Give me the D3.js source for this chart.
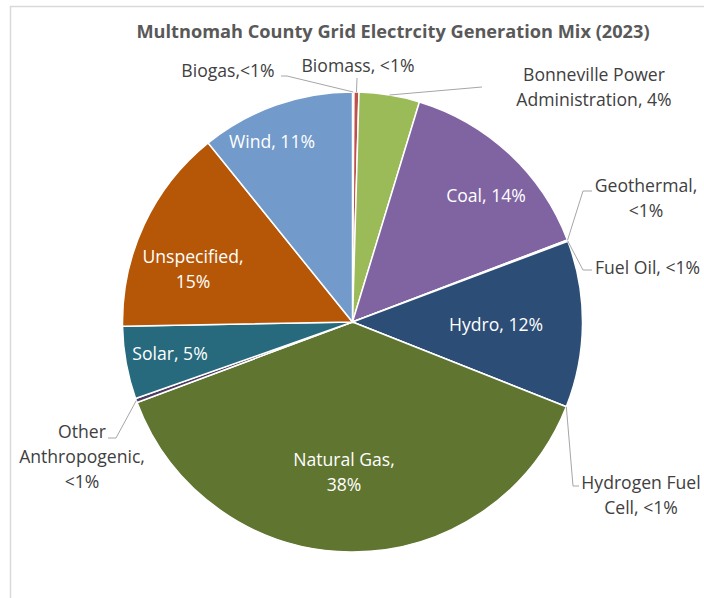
<!DOCTYPE html>
<html>
<head>
<meta charset="utf-8">
<script src="https://cdn.jsdelivr.net/npm/d3@7"></script>
<style>
  body { margin: 0; background: #fff; }
  svg { display: block; font-family: "Open Sans", "Noto Sans", sans-serif; }
</style>
</head>
<body>
<svg id="chart"></svg>
<script>
const categories = ["Biogas", "Biomass", "Bonneville Power Administration", "Coal", "Geothermal",
  "Fuel Oil", "Hydro", "Hydrogen Fuel Cell", "Natural Gas", "Other Anthropogenic", "Solar",
  "Unspecified", "Wind"];
const values = [0.1, 0.35, 4.25, 14.5, 0.05, 0.05, 11.7, 0.02, 38.3, 0.3, 5.1, 14.5, 10.8];
const pctLabels = ["<1%", "<1%", "4%", "14%", "<1%", "<1%", "12%", "<1%", "38%", "<1%", "5%", "15%", "11%"];
const colors = ["#4f81bd", "#c0504d", "#9bbb59", "#8064a2", "#f79646", "#4bacc6", "#2c4d75",
  "#772c2a", "#5f7530", "#4d3b62", "#276a7d", "#b65708", "#729aca"];

const width = 704, height = 598;
const svg = d3.select("#chart").attr("width", width).attr("height", height);

// chart-area border (cropped Excel frame)
svg.append("path")
  .attr("d", "M10.5,598 V6.5 H704")
  .attr("fill", "none")
  .attr("stroke", "#d9d9d9")
  .attr("stroke-width", 1.5);

svg.append("text")
  .attr("x", 393).attr("y", 32)
  .attr("text-anchor", "middle").attr("dy", "0.35em")
  .attr("font-size", 18.2).attr("font-weight", 700).attr("fill", "#595959")
  .text("Multnomah County Grid Electrcity Generation Mix (2023)");

const cx = 352.5, cy = 322, r = 230;
const g = svg.append("g").attr("transform", `translate(${cx},${cy})`);

const pie = d3.pie().sort(null).value(d => d.value);
const arcs = pie(categories.map((c, i) => ({ name: c, value: values[i], pct: pctLabels[i], color: colors[i] })));
const arc = d3.arc().innerRadius(0).outerRadius(r);
const edge = d3.arc().innerRadius(r).outerRadius(r);

g.selectAll("path.slice")
  .data(arcs)
  .join("path")
  .attr("class", "slice")
  .attr("d", arc)
  .attr("fill", d => d.data.color)
  .attr("stroke", "#fff")
  .attr("stroke-width", 1.5);

// label layout: lines, centre point, colour, leader path (relative to page)
const layout = {
  "Biogas": { lines: ["Biogas,<1%"], x: 228, y: 71, lead: [[287, 76], [281, 76]] },
  "Biomass": { lines: ["Biomass, <1%"], x: 358, y: 66, lead: [[357, 78]] },
  "Bonneville Power Administration": { lines: ["Bonneville Power", "Administration, 4%"], x: 594, y: 75, lead: [[482, 87]] },
  "Coal": { lines: ["Coal, 14%"], x: 486, y: 196, inside: true },
  "Geothermal": { lines: ["Geothermal,", "<1%"], x: 646, y: 186, lead: [[583, 191], [592, 191]] },
  "Fuel Oil": { lines: ["Fuel Oil, <1%"], x: 595, y: 268, anchor: "start", lead: [[583, 270], [592, 270]] },
  "Hydro": { lines: ["Hydro, 12%"], x: 496, y: 325, inside: true },
  "Hydrogen Fuel Cell": { lines: ["Hydrogen Fuel", "Cell, <1%"], x: 641, y: 483, lead: [[573, 486], [579, 486]] },
  "Natural Gas": { lines: ["Natural Gas,", "38%"], x: 344, y: 460, inside: true },
  "Other Anthropogenic": { lines: ["Other", "Anthropogenic,", "<1%"], x: 82, y: 432, lead: [[116, 438], [108, 438]] },
  "Solar": { lines: ["Solar, 5%"], x: 170, y: 354, inside: true },
  "Unspecified": { lines: ["Unspecified,", "15%"], x: 193, y: 257, inside: true },
  "Wind": { lines: ["Wind, 11%"], x: 272, y: 142, inside: true }
};

const line = d3.line();
arcs.forEach(d => {
  const L = layout[d.data.name];
  if (L.lead) {
    const p = edge.centroid(d);
    const pts = [[p[0] + cx, p[1] + cy]].concat(L.lead);
    svg.append("path")
      .attr("d", line(pts))
      .attr("fill", "none")
      .attr("stroke", "#a6a6a6")
      .attr("stroke-width", 1);
  }
  const t = svg.append("text")
    .attr("text-anchor", L.anchor || "middle")
    .attr("font-size", 17.6)
    .attr("fill", L.inside ? "#ffffff" : "#404040");
  L.lines.forEach((s, i) => {
    t.append("tspan")
      .attr("x", L.x)
      .attr("y", L.y + i * 25)
      .attr("dy", "0.35em")
      .text(s);
  });
});
</script>
</body>
</html>
